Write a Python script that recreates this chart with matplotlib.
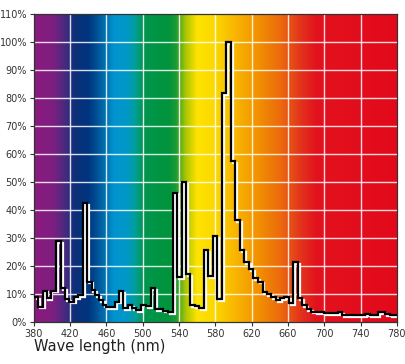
import numpy as np
import matplotlib
matplotlib.use("Agg")
import matplotlib.pyplot as plt
import matplotlib.transforms as mtransforms
from matplotlib.colors import LinearSegmentedColormap

# bin start wavelengths (nm) and relative intensity (%)
wl_start = [380, 385, 390, 394, 398.5, 404.5, 410, 414, 419, 424, 429, 434.5,
            439, 443.5, 447.5, 452, 456, 460, 469.5, 474, 478.5, 484, 488, 493,
            498.5, 504, 508.5, 513.5, 518, 522.5, 528, 533, 538, 543, 547.5, 552,
            557, 562, 567.5, 572, 577.5, 582, 587, 592, 597, 602, 607, 612, 617,
            622, 627, 632, 636.5, 641.5, 646.5, 651, 656, 661.5, 666, 671, 676,
            680.5, 685.5, 690.5, 695, 700, 705, 710, 715, 720, 725, 730, 735,
            740, 745, 750, 759.5, 767, 772.5]
intensity = [9.0, 5.5, 11.2, 8.5, 11.2, 29.0, 12.0, 8.1, 7.3, 9.0, 9.6, 42.5,
             14.4, 11.4, 9.6, 7.9, 6.1, 5.3, 7.3, 11.0, 5.0, 5.9, 4.9, 4.3,
             6.2, 5.8, 12.2, 4.6, 4.5, 4.1, 3.6, 46.2, 16.0, 49.9, 17.1, 6.0,
             5.6, 5.0, 25.7, 16.4, 30.8, 8.1, 81.7, 99.9, 57.6, 36.4, 25.7, 21.5, 18.8,
             15.6, 14.4, 10.8, 10.0, 9.0, 7.9, 8.5, 8.8, 6.7, 21.3, 8.5, 6.0,
             4.5, 3.7, 3.6, 3.4, 3.1, 3.3, 3.2, 3.5, 2.6, 2.5, 2.6, 2.6,
             2.6, 2.7, 2.6, 3.6, 2.9, 2.4]
wl_end = 780

x_ticks = list(range(380, 781, 40))
y_ticks = list(range(0, 111, 10))

# spectrum background colours
spec = LinearSegmentedColormap.from_list("spec", [
    (0.00, "#8a1a7f"), (0.05, "#7e1f80"), (0.09, "#3c2b7e"), (0.11, "#0c2f78"),
    (0.15, "#00357f"), (0.19, "#006aab"), (0.22, "#0094cf"), (0.255, "#0098c8"),
    (0.28, "#009d96"), (0.30, "#00964e"), (0.37, "#00943c"), (0.39, "#1a9a35"),
    (0.42, "#b4c800"), (0.45, "#ffe300"), (0.50, "#fbd800"), (0.55, "#f8b800"),
    (0.62, "#f29000"), (0.68, "#eb6a0e"), (0.74, "#e3301c"), (0.78, "#e2121e"),
    (1.00, "#e3091b")])

fig = plt.figure(figsize=(4.06, 3.64), dpi=100)
ax = fig.add_axes([0.0835, 0.1154, 0.894, 0.846])

grad = np.linspace(0, 1, 800).reshape(1, -1)
ax.imshow(grad, cmap=spec, aspect="auto", extent=[380, 780, 0, 110],
          interpolation="bilinear", zorder=0)

for xv in x_ticks[1:-1]:
    ax.axvline(xv, color="white", lw=1.0, alpha=0.85, zorder=1)
for yv in y_ticks[1:-1]:
    ax.axhline(yv, color="white", lw=1.0, alpha=0.85, zorder=1)

edges = wl_start + [wl_end]
shadow = mtransforms.offset_copy(ax.transData, fig=fig, x=1.3, y=-1.3, units="points")
ax.stairs(intensity, edges, baseline=None, color="white", lw=1.6,
          transform=shadow, zorder=2)
ax.stairs(intensity, edges, baseline=None, color="black", lw=1.6, zorder=3)

ax.set_xlim(380, 780)
ax.set_ylim(0, 110)
ax.set_xticks(x_ticks)
ax.set_yticks(y_ticks)
ax.set_yticklabels([f"{v}%" for v in y_ticks])
ax.tick_params(labelsize=7, colors="#333333", length=3, width=0.8, pad=2)
for s in ax.spines.values():
    s.set_color("#333333")
    s.set_linewidth(0.9)

fig.text(0.0835, 0.035, "Wave length (nm)", fontsize=10.5, color="#222222",
         ha="left", va="baseline")

fig.savefig("out.png", dpi=100)
